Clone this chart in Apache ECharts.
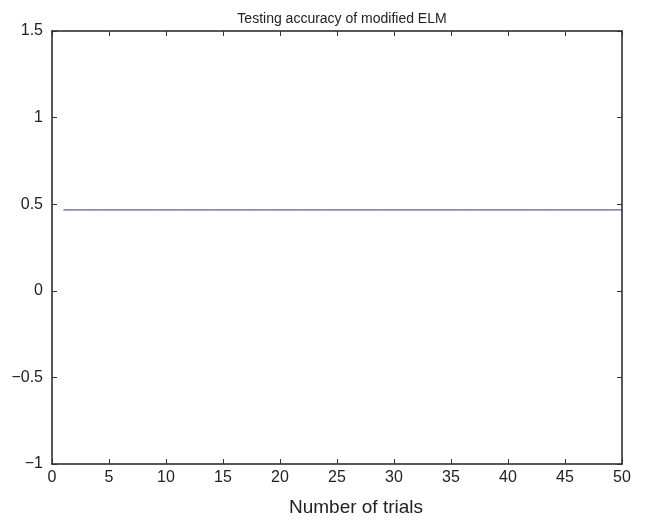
<!DOCTYPE html>
<html>
<head>
<meta charset="utf-8">
<style>
  html, body { margin: 0; padding: 0; background: #fff; }
  #chart { width: 646px; height: 522px; }
</style>
<script src="https://cdn.jsdelivr.net/npm/echarts@6/dist/echarts.min.js"></script>
</head>
<body>
<div id="chart"></div>
<script>
// trial number on x, testing accuracy on y
const trials = [
  1, 2, 3, 4, 5, 6, 7, 8, 9, 10,
  11, 12, 13, 14, 15, 16, 17, 18, 19, 20,
  21, 22, 23, 24, 25, 26, 27, 28, 29, 30,
  31, 32, 33, 34, 35, 36, 37, 38, 39, 40,
  41, 42, 43, 44, 45, 46, 47, 48, 49, 50
];
const accuracy = [
  0.467, 0.467, 0.467, 0.467, 0.467, 0.467, 0.467, 0.467, 0.467, 0.467,
  0.467, 0.467, 0.467, 0.467, 0.467, 0.467, 0.467, 0.467, 0.467, 0.467,
  0.467, 0.467, 0.467, 0.467, 0.467, 0.467, 0.467, 0.467, 0.467, 0.467,
  0.467, 0.467, 0.467, 0.467, 0.467, 0.467, 0.467, 0.467, 0.467, 0.467,
  0.467, 0.467, 0.467, 0.467, 0.467, 0.467, 0.467, 0.467, 0.467, 0.467
];

const font = '"Liberation Sans", Arial, sans-serif';
const axisLine = { show: true, onZero: false, lineStyle: { color: '#222', width: 1.5 } };
const tickStyle = { show: true, inside: true, length: 5, lineStyle: { color: '#333', width: 1 } };

function fmtY(v) {
  if (v === 0) return '0';
  return v < 0 ? '\u2212' + String(-v) : String(v);
}

const chart = echarts.init(document.getElementById('chart'));
chart.setOption({
  animation: false,
  title: {
    text: 'Testing accuracy of modified ELM',
    left: 337, top: 7, textAlign: 'center',
    textStyle: { fontFamily: font, fontSize: 14, fontWeight: 'normal', color: '#222' }
  },
  grid: { left: 52, right: 24, top: 31, bottom: 55 },
  xAxis: [{
    type: 'value', min: 0, max: 50, interval: 5,
    name: 'Number of trials', nameLocation: 'middle', nameGap: 34,
    nameTextStyle: { fontFamily: font, fontSize: 19, color: '#222', padding: [0, 0, 0, 38] },
    axisLine: axisLine, axisTick: tickStyle,
    axisLabel: { fontFamily: font, fontSize: 16, color: '#222', margin: 6 },
    splitLine: { show: false }
  }, {
    type: 'value', position: 'top', min: 0, max: 50, interval: 5,
    axisLine: axisLine, axisTick: tickStyle,
    axisLabel: { show: false }, splitLine: { show: false }
  }],
  yAxis: [{
    type: 'value', min: -1, max: 1.5, interval: 0.5,
    axisLine: axisLine, axisTick: tickStyle,
    axisLabel: { fontFamily: font, fontSize: 16, color: '#222', margin: 9, formatter: fmtY },
    splitLine: { show: false }
  }, {
    type: 'value', position: 'right', min: -1, max: 1.5, interval: 0.5,
    axisLine: axisLine, axisTick: tickStyle,
    axisLabel: { show: false }, splitLine: { show: false }
  }],
  series: [{
    type: 'line',
    data: trials.map((t, i) => [t, accuracy[i]]),
    showSymbol: false,
    lineStyle: { color: '#2b3b8c', width: 1 }
  }]
});
</script>
</body>
</html>
